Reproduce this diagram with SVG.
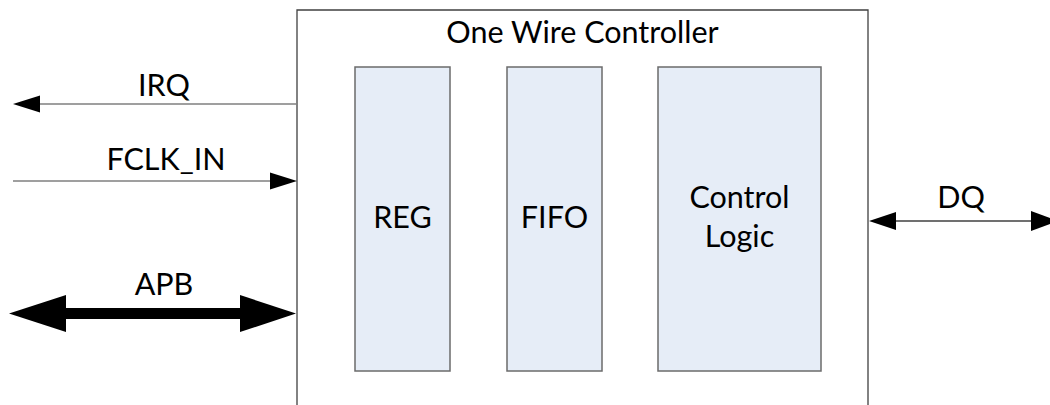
<svg xmlns="http://www.w3.org/2000/svg" width="1050" height="405" viewBox="0 0 1050 405">
<style>
  text { font-family: Lato, "Open Sans", sans-serif; font-size: 30.5px; fill: #000; text-anchor: middle; }
  .outer { fill: #fff; stroke: #404040; stroke-width: 1.3; }
  .inner { fill: #e6edf7; stroke: #6b6b6b; stroke-width: 1.5; }
  .wire { stroke: #7f7f7f; stroke-width: 1.3; fill: none; }
  .dwire { stroke: #404040; stroke-width: 1.3; fill: none; }
  .head { fill: #000; stroke: none; }
</style>
<rect width="1050" height="405" fill="#fff"/>
<g id="controller">
  <path class="outer" d="M297,406 V10 H868 V406"/>
  <text x="582.5" y="43">One Wire Controller</text>
</g>
<g id="reg">
  <rect class="inner" x="355" y="67" width="95" height="304"/>
  <text x="402.5" y="228">REG</text>
</g>
<g id="fifo">
  <rect class="inner" x="507" y="67" width="95" height="304"/>
  <text x="554.5" y="228">FIFO</text>
</g>
<g id="control">
  <rect class="inner" x="658" y="67" width="163" height="304"/>
  <text x="739.5" y="208">Control</text>
  <text x="739.5" y="247">Logic</text>
</g>
<g id="connectors">
  <g id="irq">
    <line class="wire" x1="297" y1="104" x2="38" y2="104"/>
    <polygon class="head" points="13,104 40,95.5 40,112.5"/>
    <text x="164" y="96">IRQ</text>
  </g>
  <g id="fclk">
    <line class="wire" x1="13" y1="181" x2="272" y2="181"/>
    <polygon class="head" points="297,181 270,172.5 270,189.5"/>
    <text x="166" y="170">FCLK_IN</text>
  </g>
  <g id="apb">
    <rect class="head" x="60" y="308" width="186" height="11"/>
    <polygon class="head" points="9,313.5 66,295 66,332"/>
    <polygon class="head" points="296,313.5 240,295 240,332"/>
    <text x="164" y="295">APB</text>
  </g>
  <g id="dq">
    <line class="dwire" x1="894" y1="221" x2="1033" y2="221"/>
    <polygon class="head" points="869,221 896,212 896,230"/>
    <polygon class="head" points="1058,221 1031,211 1031,231"/>
    <text x="961" y="208">DQ</text>
  </g>
</g>
</svg>
